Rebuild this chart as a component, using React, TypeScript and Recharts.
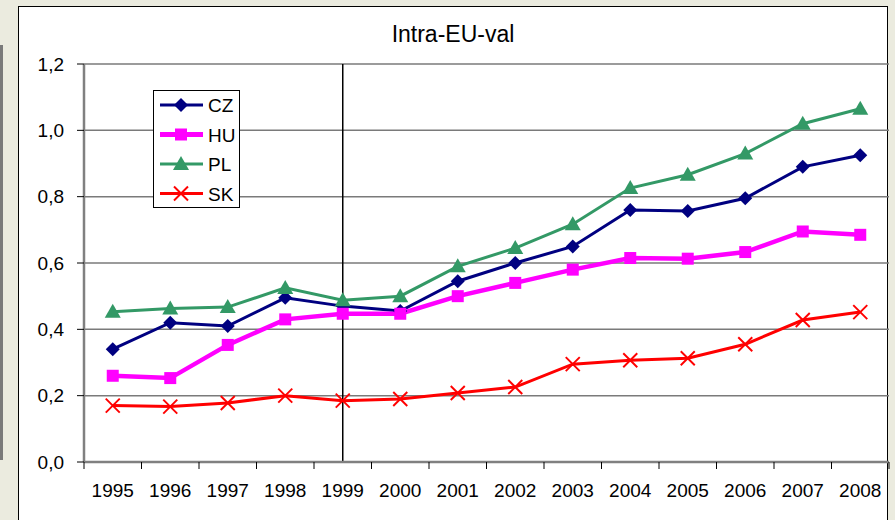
import { LineChart, Line, XAxis, YAxis, CartesianGrid, ReferenceLine } from 'recharts'

const years = ['1995', '1996', '1997', '1998', '1999', '2000', '2001', '2002', '2003', '2004', '2005', '2006', '2007', '2008']
const cz = [0.34, 0.42, 0.41, 0.495, 0.47, 0.455, 0.545, 0.6, 0.65, 0.76, 0.757, 0.795, 0.89, 0.925]
const hu = [0.26, 0.253, 0.353, 0.43, 0.447, 0.447, 0.5, 0.54, 0.58, 0.615, 0.613, 0.633, 0.695, 0.685]
const pl = [0.453, 0.463, 0.467, 0.525, 0.488, 0.5, 0.59, 0.645, 0.717, 0.826, 0.866, 0.93, 1.02, 1.065]
const sk = [0.17, 0.167, 0.178, 0.2, 0.185, 0.19, 0.208, 0.226, 0.295, 0.307, 0.313, 0.355, 0.428, 0.452]
const yTicks = [0, 0.2, 0.4, 0.6, 0.8, 1.0, 1.2]

const data = years.map((y, i) => ({ year: y, CZ: cz[i], HU: hu[i], PL: pl[i], SK: sk[i] }))

const W = 873
const H = 514
const M = { top: 58, right: 2, left: 6, bottom: 18 }
const Y_W = 60
const STEP = (W - M.left - M.right - Y_W) / years.length

const FONT = '"Liberation Sans", Arial, sans-serif'

const COLORS = { CZ: '#000080', HU: '#ff00ff', PL: '#339966', SK: '#ff0000' }

function Marker({ kind, cx, cy }: { kind: string; cx: number; cy: number }) {
  if (kind === 'CZ') {
    const r = 7
    return <polygon points={`${cx},${cy - r} ${cx + r},${cy} ${cx},${cy + r} ${cx - r},${cy}`} fill={COLORS.CZ} />
  }
  if (kind === 'HU') {
    return <rect x={cx - 6} y={cy - 6} width={12} height={12} fill={COLORS.HU} />
  }
  if (kind === 'PL') {
    return <polygon points={`${cx},${cy - 8} ${cx + 8},${cy + 6} ${cx - 8},${cy + 6}`} fill={COLORS.PL} />
  }
  return (
    <g stroke={COLORS.SK} strokeWidth={2}>
      <line x1={cx - 7} y1={cy - 7} x2={cx + 7} y2={cy + 7} />
      <line x1={cx - 7} y1={cy + 7} x2={cx + 7} y2={cy - 7} />
    </g>
  )
}

const dotFor = (kind: string) => (p: any) => <Marker key={`${kind}-${p.index}`} kind={kind} cx={p.cx} cy={p.cy} />

function XTick(props: any) {
  const { x, y, payload, index } = props
  const last = index === years.length - 1
  return (
    <g>
      <line x1={x - STEP / 2} y1={y - 8} x2={x - STEP / 2} y2={y - 1} stroke="#000" />
      {last && <line x1={x + STEP / 2} y1={y - 8} x2={x + STEP / 2} y2={y - 1} stroke="#000" />}
      <text x={x} y={y + 27} textAnchor="middle" fontSize={19} fontFamily={FONT} fill="#000">
        {payload.value}
      </text>
    </g>
  )
}

function LegendBox() {
  const rows = ['CZ', 'HU', 'PL', 'SK']
  return (
    <div style={{ position: 'absolute', left: 135, top: 84, width: 87, height: 118, border: '1px solid #000', background: '#fff', boxSizing: 'border-box' }}>
      <svg width={85} height={116} style={{ display: 'block' }}>
        {rows.map((k, i) => {
          const cy = 14 + i * 29.5
          return (
            <g key={k}>
              <line x1={6} x2={49} y1={cy} y2={cy} stroke={(COLORS as any)[k]} strokeWidth={k === 'HU' ? 5 : 3} />
              <Marker kind={k} cx={27} cy={cy} />
              <text x={54} y={cy + 7} fontSize={19} fontFamily={FONT} fill="#000">{k}</text>
            </g>
          )
        })}
      </svg>
    </div>
  )
}

export default function App() {
  return (
    <div style={{ position: 'fixed', left: 0, top: 0, width: 895, height: 520, background: '#ebebdf', overflow: 'hidden' }}>
      <div style={{ position: 'absolute', left: 0, top: 45, width: 3, height: 415, background: '#7a7a7a' }} />
      <div style={{ position: 'absolute', left: 18, top: 6, width: 870, height: H + 10, background: '#fff', border: '1px solid #000', boxSizing: 'border-box' }} />
      <div style={{ position: 'absolute', left: 18, top: 6 }}>
        <div style={{ position: 'absolute', left: 0, width: 870, top: 15, textAlign: 'center', fontFamily: FONT, fontSize: 23, color: '#000' }}>
          Intra-EU-val
        </div>
        <LineChart width={W} height={H} data={data} margin={M}>
          <CartesianGrid horizontal vertical={false} stroke="#7a7a7a" strokeWidth={1.5} />
          <XAxis dataKey="year" scale="band" tick={<XTick />} tickLine={false} axisLine={{ stroke: '#808080', strokeWidth: 2.5 }} height={40} interval={0} />
          <YAxis
            domain={[0, 1.2]}
            ticks={yTicks}
            width={Y_W}
            tickFormatter={(v: number) => v.toFixed(1).replace('.', ',')}
            tick={{ fill: '#000', fontSize: 19, fontFamily: FONT }}
            tickLine={{ stroke: '#000' }}
            tickSize={7}
            tickMargin={13}
            axisLine={{ stroke: '#808080', strokeWidth: 2.5 }}
          />
          <YAxis yAxisId="edge" orientation="right" width={0} tick={false} tickLine={false} axisLine={{ stroke: '#8a8a8a', strokeWidth: 3 }} />
          <ReferenceLine x="1999" stroke="#000" strokeWidth={1.5} />
          <Line dataKey="CZ" stroke={COLORS.CZ} strokeWidth={3} dot={dotFor('CZ')} isAnimationActive={false} />
          <Line dataKey="HU" stroke={COLORS.HU} strokeWidth={4.5} dot={dotFor('HU')} isAnimationActive={false} />
          <Line dataKey="PL" stroke={COLORS.PL} strokeWidth={3} dot={dotFor('PL')} isAnimationActive={false} />
          <Line dataKey="SK" stroke={COLORS.SK} strokeWidth={3} dot={dotFor('SK')} isAnimationActive={false} />
        </LineChart>
        <LegendBox />
      </div>
    </div>
  )
}
